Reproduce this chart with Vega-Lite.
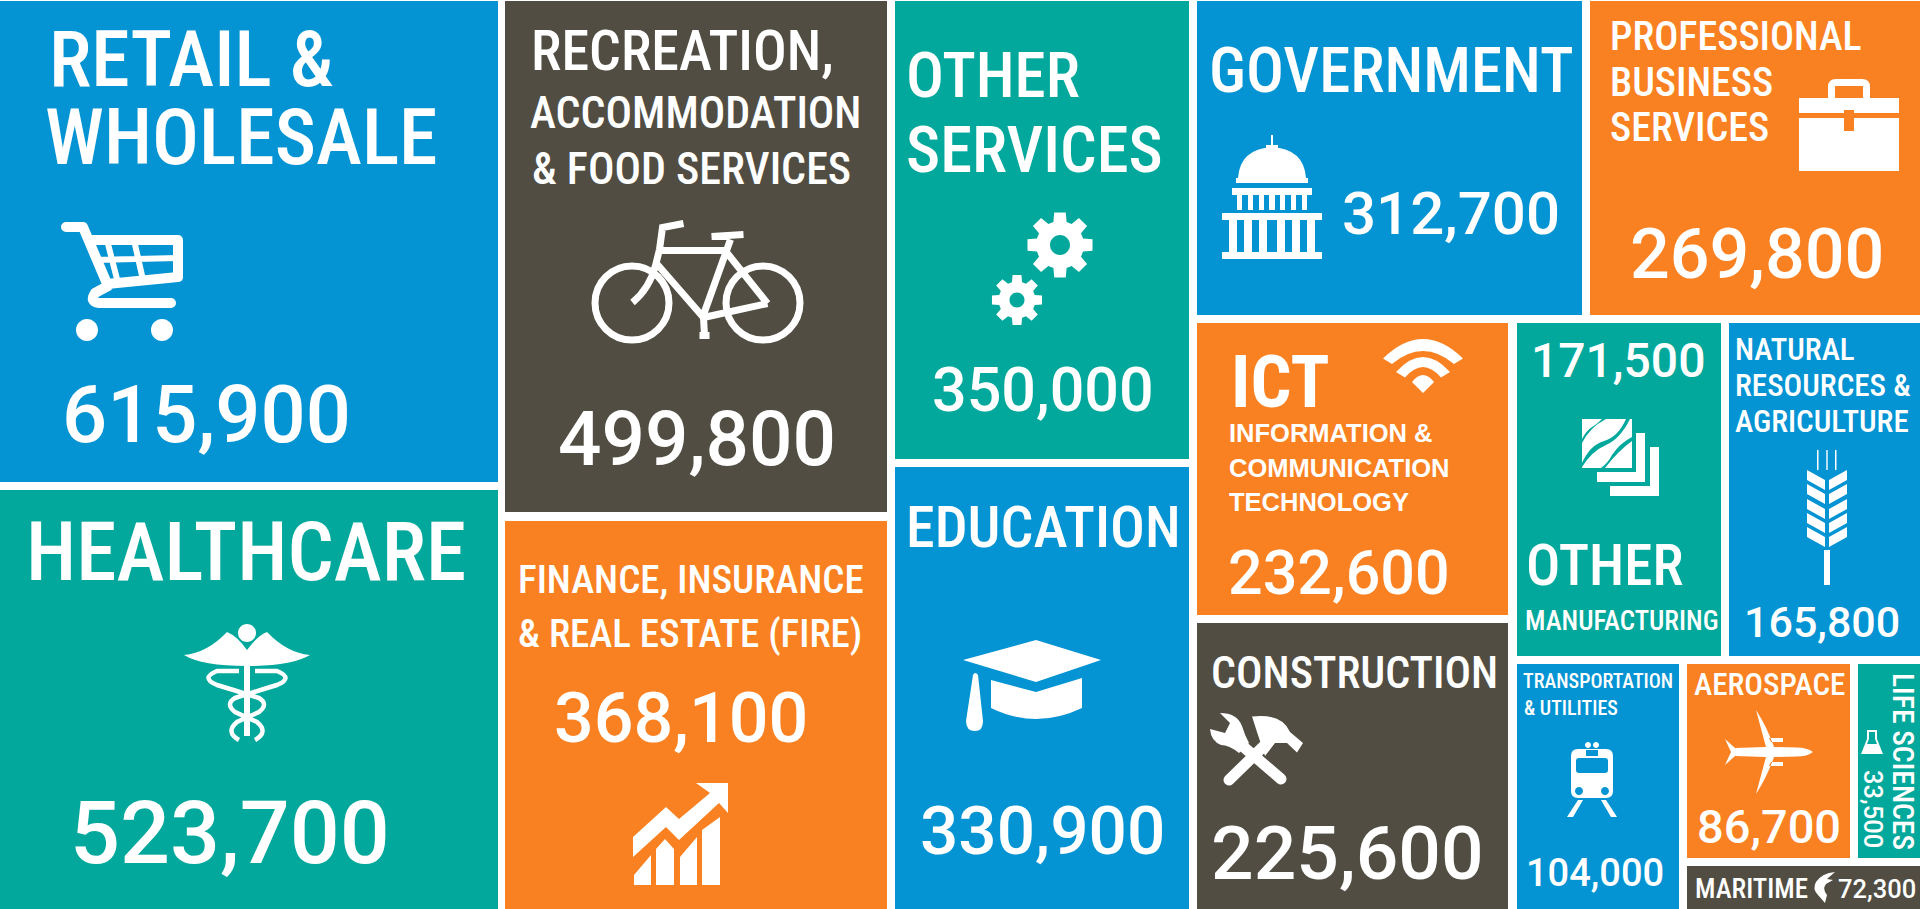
{"$schema":"https://vega.github.io/schema/vega-lite/v6.json","width":1920,"height":909,"padding":0,"autosize":{"type":"none"},"background":"#ffffff","config":{"view":{"stroke":null},"text":{"align":"left","baseline":"alphabetic","fill":"#ffffff"}},
"datasets":{
"cells":[
{"sector":"Retail & Wholesale","jobs":615900,"group":"blue","x":0,"x1":498,"y":1,"y1":482},
{"sector":"Healthcare","jobs":523700,"group":"teal","x":0,"x1":498,"y":490,"y1":909},
{"sector":"Recreation, Accommodation & Food Services","jobs":499800,"group":"dark","x":505,"x1":887,"y":1,"y1":512},
{"sector":"Finance, Insurance & Real Estate (FIRE)","jobs":368100,"group":"orange","x":505,"x1":887,"y":521,"y1":909},
{"sector":"Other Services","jobs":350000,"group":"teal","x":895,"x1":1189,"y":1,"y1":459},
{"sector":"Education","jobs":330900,"group":"blue","x":895,"x1":1189,"y":467,"y1":909},
{"sector":"Government","jobs":312700,"group":"blue","x":1197,"x1":1582,"y":1,"y1":315},
{"sector":"Professional Business Services","jobs":269800,"group":"orange","x":1590,"x1":1920,"y":1,"y1":315},
{"sector":"ICT","jobs":232600,"group":"orange","x":1197,"x1":1508,"y":323,"y1":615},
{"sector":"Construction","jobs":225600,"group":"dark","x":1197,"x1":1508,"y":623,"y1":909},
{"sector":"Other Manufacturing","jobs":171500,"group":"teal","x":1517,"x1":1721,"y":323,"y1":656},
{"sector":"Natural Resources & Agriculture","jobs":165800,"group":"blue","x":1729,"x1":1920,"y":323,"y1":656},
{"sector":"Transportation & Utilities","jobs":104000,"group":"blue","x":1517,"x1":1679,"y":664,"y1":909},
{"sector":"Aerospace","jobs":86700,"group":"orange","x":1687,"x1":1850,"y":664,"y1":858},
{"sector":"Life Sciences","jobs":33500,"group":"teal","x":1858,"x1":1920,"y":664,"y1":858},
{"sector":"Maritime","jobs":72300,"group":"dark","x":1687,"x1":1920,"y":866,"y1":909}],
"icons":[
{"icon":"cartw","x":121,"y":280},{"icon":"cadu","x":247,"y":688},{"icon":"gear1","x":1060,"y":245},{"icon":"gear2","x":1017,"y":300},{"icon":"chart","x":680,"y":834},{"icon":"cap","x":1032,"y":685},{"icon":"capitol","x":1272,"y":197},{"icon":"case","x":1849,"y":125},{"icon":"wifi","x":1423,"y":366},{"icon":"tools","x":1257,"y":751},{"icon":"layers","x":1620,"y":457},{"icon":"wheat","x":1827,"y":517},{"icon":"train","x":1592,"y":779},{"icon":"plane","x":1769,"y":752},{"icon":"flask","x":1872,"y":742},{"icon":"fish","x":1824,"y":887}],
"lines":[{"icon":"bike","x":697.5,"y":283.5},{"icon":"cartframe","x":121,"y":280},{"icon":"cartgrid","x":121,"y":280},{"icon":"snakes","x":247,"y":688},{"icon":"toolh","x":1257,"y":751}],
"labels":[
{"k":"h78","t":"RETAIL &","x":49,"y":86},{"k":"h78","t":"WHOLESALE","x":45,"y":164},
{"k":"h81","t":"HEALTHCARE","x":26,"y":580},
{"k":"h56","t":"RECREATION,","x":531,"y":70},{"k":"h58","t":"EDUCATION","x":906,"y":547},
{"k":"h44","t":"ACCOMMODATION","x":530,"y":128},{"k":"h44","t":"& FOOD SERVICES","x":532,"y":184},{"k":"h44","t":"CONSTRUCTION","x":1211,"y":688},
{"k":"h63","t":"OTHER","x":906,"y":97},{"k":"h65","t":"SERVICES","x":906,"y":172},{"k":"h63","t":"GOVERNMENT","x":1209,"y":92},
{"k":"h39","t":"FINANCE, INSURANCE","x":518,"y":593},{"k":"h39","t":"& REAL ESTATE (FIRE)","x":518,"y":647},
{"k":"h40","t":"PROFESSIONAL","x":1610,"y":50},{"k":"h40","t":"BUSINESS","x":1610,"y":96},{"k":"h40","t":"SERVICES","x":1610,"y":141},
{"k":"h57","t":"OTHER","x":1526,"y":585},
{"k":"h27","t":"MANUFACTURING","x":1525,"y":630},{"k":"h27","t":"MARITIME","x":1695,"y":898},
{"k":"h31","t":"NATURAL","x":1735,"y":360},{"k":"h31","t":"RESOURCES &","x":1735,"y":396},{"k":"h31","t":"AGRICULTURE","x":1735,"y":432},{"k":"h31","t":"AEROSPACE","x":1694,"y":695},
{"k":"h20","t":"TRANSPORTATION","x":1523,"y":688},{"k":"h20","t":"& UTILITIES","x":1524,"y":715},
{"k":"hv","t":"LIFE SCIENCES","x":1893,"y":673},
{"k":"ict","t":"ICT","x":1231,"y":407},
{"k":"b25","t":"INFORMATION &","x":1229,"y":442},{"k":"b25","t":"COMMUNICATION","x":1229,"y":477},{"k":"b25","t":"TECHNOLOGY","x":1229,"y":511},
{"k":"n79","t":"615,900","x":62,"y":442},{"k":"n88","t":"523,700","x":70,"y":863},{"k":"n76","t":"499,800","x":558,"y":465},
{"k":"n61","t":"350,000","x":932,"y":411},{"k":"n60","t":"312,700","x":1342,"y":234},{"k":"n61","t":"232,600","x":1228,"y":594},
{"k":"n70","t":"368,100","x":554,"y":742},{"k":"n70","t":"269,800","x":1630,"y":278},
{"k":"n67","t":"330,900","x":920,"y":854},{"k":"n75","t":"225,600","x":1211,"y":879},
{"k":"n48","t":"171,500","x":1531,"y":377},{"k":"n47","t":"86,700","x":1697,"y":843},
{"k":"n43","t":"165,800","x":1744,"y":637},{"k":"n38","t":"104,000","x":1526,"y":886},{"k":"n25","t":"72,300","x":1838,"y":898},
{"k":"nv","t":"33,500","x":1864,"y":770}]
},
"encoding":{"x":{"field":"x","type":"quantitative","axis":null,"scale":{"domain":[0,1920],"nice":false,"zero":false}},"y":{"field":"y","type":"quantitative","axis":null,"scale":{"domain":[0,909],"nice":false,"zero":false,"reverse":true}}},
"layer":[
{"data":{"name":"cells"},"mark":{"type":"rect"},"encoding":{"x2":{"field":"x1"},"y2":{"field":"y1"},"color":{"field":"group","type":"nominal","legend":null,"scale":{"domain":["blue","teal","dark","orange"],"range":["#0493d3","#02a89b","#514d43","#f98121"]}}}},
{"data":{"name":"icons"},"mark":{"type":"point","filled":true,"size":4,"opacity":1,"fill":"#ffffff","strokeWidth":0},"encoding":{"shape":{"field":"icon","type":"nominal","legend":null,"scale":{"domain":["cartw","cadu","gear1","gear2","chart","cap","capitol","case","wifi","tools","layers","wheat","train","plane","flask","fish"],"range":[
"M-45,50 a11,11 0 1,0 22,0 a11,11 0 1,0 -22,0Z M30,50 a11,11 0 1,0 22,0 a11,11 0 1,0 -22,0Z",
"M-63,-33 Q-40,-35 -20,-56 Q-10,-52 0,-38 Q10,-52 20,-56 Q40,-35 63,-33 Q45,-22 0,-22 Q-45,-22 -63,-33Z M-3,-22 L3,-22 L3,48 L-3,48Z M-9,-55 a9,9 0 1,0 18,0 a9,9 0 1,0 -18,0Z",
"M23.07,-6.62 L32.5,-5.73 L32.5,5.73 L23.07,6.62 L20.99,11.64 L27.03,18.93 L18.93,27.03 L11.64,20.99 L6.62,23.07 L5.73,32.5 L-5.73,32.5 L-6.62,23.07 L-11.64,20.99 L-18.93,27.03 L-27.03,18.93 L-20.99,11.64 L-23.07,6.62 L-32.5,5.73 L-32.5,-5.73 L-23.07,-6.62 L-20.99,-11.64 L-27.03,-18.93 L-18.93,-27.03 L-11.64,-20.99 L-6.62,-23.07 L-5.73,-32.5 L5.73,-32.5 L6.62,-23.07 L11.64,-20.99 L18.93,-27.03 L27.03,-18.93 L20.99,-11.64Z M10,0 A10,10 0 1,0 -10,0 A10,10 0 1,0 10,0Z",
"M17.76,-5.1 L25.03,-4.41 L25.03,4.41 L17.76,5.1 L16.16,8.96 L20.81,14.58 L14.58,20.81 L8.96,16.16 L5.1,17.76 L4.41,25.03 L-4.41,25.03 L-5.1,17.76 L-8.96,16.16 L-14.58,20.81 L-20.81,14.58 L-16.16,8.96 L-17.76,5.1 L-25.03,4.41 L-25.03,-4.41 L-17.76,-5.1 L-16.16,-8.96 L-20.81,-14.58 L-14.58,-20.81 L-8.96,-16.16 L-5.1,-17.76 L-4.41,-25.03 L4.41,-25.03 L5.1,-17.76 L8.96,-16.16 L14.58,-20.81 L20.81,-14.58 L16.16,-8.96Z M7.5,0 A7.5,7.5 0 1,0 -7.5,0 A7.5,7.5 0 1,0 7.5,0Z",
"M-47,3 L-14,-27 L-1,-15 L30,-41 L16,-51 L48,-51 L48,-21 L39,-31 L-1,6 L-14,-7 L-47,23Z M-46,51 L-46,41 L-29,21 L-29,51Z M-24,51 L-24,15 L-15,5 L-6,15 L-6,51Z M0,51 L0,23 L17,3 L17,51Z M22,51 L22,-4 L40,-17 L40,51Z",
"M-69,-25 L4,-45 L69,-25 L4,-3Z M-41,-5 L4,7 L50,-7 L50,23 Q4,45 -41,23Z M-59,-10 Q-57,-14 -54,-10 L-49,36 Q-49,46 -57,46 Q-66,46 -66,36Z",
"M-1,-62 L1,-62 L1,-50 L-1,-50Z M-6,-52 L6,-52 L6,-48 L-6,-48Z M-34,-19 Q-32,-48 0,-50 Q32,-48 34,-19Z M-36,-19 L36,-19 L36,-14 L-36,-14Z M-40,-9 L40,-9 L40,-2 L-40,-2Z M-35,-2 L-30,-2 L-30,13 L-35,13Z M-24,-2 L-19,-2 L-19,13 L-24,13Z M-13,-2 L-8,-2 L-8,13 L-13,13Z M-3,-2 L3,-2 L3,13 L-3,13Z M8,-2 L13,-2 L13,13 L8,13Z M19,-2 L24,-2 L24,13 L19,13Z M30,-2 L35,-2 L35,13 L30,13Z M-50,16 L50,16 L50,23 L-50,23Z M-43,23 L-35,23 L-35,55 L-43,55Z M-28,23 L-20,23 L-20,55 L-28,55Z M-13,23 L-5,23 L-5,55 L-13,55Z M5,23 L13,23 L13,55 L5,55Z M20,23 L28,23 L28,55 L20,55Z M35,23 L43,23 L43,55 L35,55Z M-50,55 L50,55 L50,62 L-50,62Z",
"M-50,-27 L50,-27 L50,-12 L5,-12 L5,-15 L-5,-15 L-5,-12 L-50,-12Z M-50,-7 L-5,-7 L-5,6 L5,6 L5,-7 L50,-7 L50,46 L-50,46Z M-21,-27 L-21,-38 Q-21,-46 -13,-46 L13,-46 Q21,-46 21,-38 L21,-27 L14,-27 L14,-39 L-14,-39 L-14,-27Z",
"M-40,-7.5 Q0,-46.5 40,-7.5 L31,-2 Q0,-28 -31,-2Z M-27,6 Q0,-24 27,6 L18,11.5 Q0,-9.5 -18,11.5Z M-11,16 Q0,2 11,16 L0,27Z",
"M-5,-34.5 Q25,-38 33,-19 L46,-8 L40,1.5 L30,-8 L18,-8 L8,5 L0,-19Z M-47,-22 L-32,-18 L-27,-28 L-37,-38 Q-20,-38 -15,-25 Q-12,-15 -8,-8 L-18,2 Q-28,-6 -36,-6 Q-46,-10 -47,-22Z",
"M16,-24 L25,-24 L25,25 L-23,25 L-23,15 L16,15Z M30,-10 L39,-10 L39,39 L-10,39 L-10,29 L30,29Z M-38,-38 L-18,-38 Q-24,-32 -28,-30 Q-34,-26 -38,-18Z M-14,-38 L6,-38 Q-2,-20 -16,-16 Q-30,-12 -38,6 L-38,-14 Q-30,-30 -14,-38Z M10,-38 L12,-38 L12,-20 Q0,-14 -8,-2 Q-12,6 -19,11 L-38,11 L-38,10 Q-28,-6 -14,-12 Q0,-18 10,-38Z M12,-16 L12,11 L-15,11 Q-2,-6 12,-16Z",
"M-3,33 L3,33 L3,68 L-3,68Z M-10,-67 L-8.5,-67 L-8.5,-47 L-10,-47Z M-0.7,-67 L0.7,-67 L0.7,-47 L-0.7,-47Z M8,-67 L9.5,-67 L9.5,-47 L8,-47Z M-20,-47 L-2,-37 L-2,-27 L-20,-37Z M-20,-33 L-2,-23 L-2,-13 L-20,-23Z M-20,-18 L-2,-8 L-2,2 L-20,-8Z M-20,-4 L-2,6 L-2,16 L-20,6Z M-20,10 L-2,20 L-2,30 L-20,20Z M20,-47 L20,-37 L2,-27 L2,-37Z M20,-33 L20,-23 L2,-13 L2,-23Z M20,-18 L20,-8 L2,2 L2,-8Z M20,-4 L20,6 L2,16 L2,6Z M20,10 L20,20 L2,30 L2,20Z",
"M-14,-30 L14,-30 Q21,-30 21,-23 L21,12 Q21,19 14,19 L-14,19 Q-21,19 -21,12 L-21,-23 Q-21,-30 -14,-30Z M-16,-18 L-16,-9 Q-16,-6 -13,-6 L13,-6 Q16,-6 16,-9 L16,-18 Q16,-21 13,-21 L-13,-21 Q-16,-21 -16,-18Z M-6,-29 L-6,-23 L6,-23 L6,-29Z M-9,12 a4,4 0 1,0 -8,0 a4,4 0 1,0 8,0Z M17,12 a4,4 0 1,0 -8,0 a4,4 0 1,0 8,0Z M-7,-34 a3,3 0 1,0 6,0 a3,3 0 1,0 -6,0Z M1,-34 a3,3 0 1,0 6,0 a3,3 0 1,0 -6,0Z M-14,21 L-9,21 L-19,38 L-25,38Z M9,21 L14,21 L25,38 L19,38Z",
"M44,0 Q38,-4.5 28,-4.5 L5,-5 Q-2,-25 -13,-42 L-3,-5 L-34,-4 L-44,-13 L-38,0 L-44,13 L-34,4 L-3,5 L-13,42 Q-2,25 5,5 L28,4.5 Q38,4.5 44,0Z M0,-14 L14,-14 L14,-10 L2,-10Z M2,10 L14,10 L14,14 L0,14Z",
"M-5,-12 L5,-12 L5,-3 L11,12 L-11,12 L-5,-3Z M-3,-10 L-3,-3 L-5,2 L5,2 L3,-3 L3,-10Z",
"M11,-15 Q-2,-14 -8,-5 Q-12,2 -6,8 L1,16 L3,8 Q-2,2 2,-3 L9,-7 L3,-8Z"]}}}},
{"data":{"name":"lines"},"transform":[{"filter":"datum.icon=='bike'"}],"mark":{"type":"point","size":4,"opacity":1,"filled":false,"stroke":"#ffffff","strokeWidth":7,"shape":"M-102.5,19.5 a37,37 0 1,0 74,0 a37,37 0 1,0 -74,0Z M28.5,19.5 a37,37 0 1,0 74,0 a37,37 0 1,0 -74,0Z M-14,-60 L-35,-56 L-38,-34 L-42,-18 Q-48,5 -65,19 M-36,-33 L28,-33 M-41,-20 L6,34 M33,-44 L5,34 M6,34 L70,20 M30,-30 L70,20 M14,-47 L46,-49 M6,34 L7,52 M2,52 L12,52"}},
{"data":{"name":"lines"},"transform":[{"filter":"datum.icon=='cartframe'"}],"mark":{"type":"point","size":4,"opacity":1,"filled":false,"stroke":"#ffffff","strokeWidth":10,"strokeCap":"round","strokeJoin":"round","shape":"M-55,-53 L-38,-53 L-13,6 L-26,13 Q-32,22 -22,23 L50,23 M-32,-40 L57,-40 L57,-3 L-14,4"}},
{"data":{"name":"lines"},"transform":[{"filter":"datum.icon=='cartgrid'"}],"mark":{"type":"point","size":4,"opacity":1,"filled":false,"stroke":"#ffffff","strokeWidth":6,"shape":"M-28,-20 L57,-22 M-14,-40 L-3,3 M13,-40 L22,0"}},
{"data":{"name":"lines"},"transform":[{"filter":"datum.icon=='snakes'"}],"mark":{"type":"point","size":4,"opacity":1,"filled":false,"stroke":"#ffffff","strokeWidth":4.5,"shape":"M-8,-17 L-30,-17 Q-47,-10 -30,-3 Q-10,3 12,10 Q22,16 12,24 L-10,34 Q-22,44 -8,52 M8,-17 L30,-17 Q47,-10 30,-3 Q10,3 -12,10 Q-22,16 -12,24 L10,34 Q22,44 8,52"}},
{"data":{"name":"lines"},"transform":[{"filter":"datum.icon=='toolh'"}],"mark":{"type":"point","size":4,"opacity":1,"filled":false,"stroke":"#ffffff","strokeWidth":11,"strokeCap":"round","shape":"M-28,29 L12,-10 M24,28 L-18,-8"}},
{"data":{"name":"labels"},"transform":[{"filter":"datum.k=='h78'"}],"mark":{"type":"text","font":"Roboto Condensed","fontWeight":500,"fontSize":78},"encoding":{"text":{"field":"t"}}},
{"data":{"name":"labels"},"transform":[{"filter":"datum.k=='h81'"}],"mark":{"type":"text","font":"Roboto Condensed","fontWeight":500,"fontSize":81.5},"encoding":{"text":{"field":"t"}}},
{"data":{"name":"labels"},"transform":[{"filter":"datum.k=='h65'"}],"mark":{"type":"text","font":"Roboto Condensed","fontWeight":500,"fontSize":64.5},"encoding":{"text":{"field":"t"}}},
{"data":{"name":"labels"},"transform":[{"filter":"datum.k=='h63'"}],"mark":{"type":"text","font":"Roboto Condensed","fontWeight":500,"fontSize":63},"encoding":{"text":{"field":"t"}}},
{"data":{"name":"labels"},"transform":[{"filter":"datum.k=='h58'"}],"mark":{"type":"text","font":"Roboto Condensed","fontWeight":500,"fontSize":58},"encoding":{"text":{"field":"t"}}},
{"data":{"name":"labels"},"transform":[{"filter":"datum.k=='h57'"}],"mark":{"type":"text","font":"Roboto Condensed","fontWeight":500,"fontSize":57},"encoding":{"text":{"field":"t"}}},
{"data":{"name":"labels"},"transform":[{"filter":"datum.k=='h56'"}],"mark":{"type":"text","font":"Roboto Condensed","fontWeight":500,"fontSize":56},"encoding":{"text":{"field":"t"}}},
{"data":{"name":"labels"},"transform":[{"filter":"datum.k=='h44'"}],"mark":{"type":"text","font":"Roboto Condensed","fontWeight":500,"fontSize":44},"encoding":{"text":{"field":"t"}}},
{"data":{"name":"labels"},"transform":[{"filter":"datum.k=='h39'"}],"mark":{"type":"text","font":"Roboto Condensed","fontWeight":500,"fontSize":39},"encoding":{"text":{"field":"t"}}},
{"data":{"name":"labels"},"transform":[{"filter":"datum.k=='h40'"}],"mark":{"type":"text","font":"Roboto Condensed","fontWeight":500,"fontSize":40},"encoding":{"text":{"field":"t"}}},
{"data":{"name":"labels"},"transform":[{"filter":"datum.k=='h31'"}],"mark":{"type":"text","font":"Roboto Condensed","fontWeight":500,"fontSize":31},"encoding":{"text":{"field":"t"}}},
{"data":{"name":"labels"},"transform":[{"filter":"datum.k=='h27'"}],"mark":{"type":"text","font":"Roboto Condensed","fontWeight":500,"fontSize":27},"encoding":{"text":{"field":"t"}}},
{"data":{"name":"labels"},"transform":[{"filter":"datum.k=='h20'"}],"mark":{"type":"text","font":"Roboto Condensed","fontWeight":500,"fontSize":20},"encoding":{"text":{"field":"t"}}},
{"data":{"name":"labels"},"transform":[{"filter":"datum.k=='hv'"}],"mark":{"type":"text","font":"Roboto Condensed","fontWeight":500,"fontSize":29.5,"angle":90},"encoding":{"text":{"field":"t"}}},
{"data":{"name":"labels"},"transform":[{"filter":"datum.k=='ict'"}],"mark":{"type":"text","font":"Roboto Condensed","fontSize":72,"fontWeight":"bold"},"encoding":{"text":{"field":"t"}}},
{"data":{"name":"labels"},"transform":[{"filter":"datum.k=='b25'"}],"mark":{"type":"text","font":"Liberation Sans","fontSize":25.5,"fontWeight":"bold"},"encoding":{"text":{"field":"t"}}},
{"data":{"name":"labels"},"transform":[{"filter":"datum.k=='n79'"}],"mark":{"type":"text","font":"Roboto","fontWeight":500,"fontSize":79.5},"encoding":{"text":{"field":"t"}}},
{"data":{"name":"labels"},"transform":[{"filter":"datum.k=='n88'"}],"mark":{"type":"text","font":"Roboto","fontWeight":500,"fontSize":88},"encoding":{"text":{"field":"t"}}},
{"data":{"name":"labels"},"transform":[{"filter":"datum.k=='n76'"}],"mark":{"type":"text","font":"Roboto","fontWeight":500,"fontSize":76.5},"encoding":{"text":{"field":"t"}}},
{"data":{"name":"labels"},"transform":[{"filter":"datum.k=='n75'"}],"mark":{"type":"text","font":"Roboto","fontWeight":500,"fontSize":75},"encoding":{"text":{"field":"t"}}},
{"data":{"name":"labels"},"transform":[{"filter":"datum.k=='n70'"}],"mark":{"type":"text","font":"Roboto","fontWeight":500,"fontSize":70},"encoding":{"text":{"field":"t"}}},
{"data":{"name":"labels"},"transform":[{"filter":"datum.k=='n67'"}],"mark":{"type":"text","font":"Roboto","fontWeight":500,"fontSize":67.5},"encoding":{"text":{"field":"t"}}},
{"data":{"name":"labels"},"transform":[{"filter":"datum.k=='n61'"}],"mark":{"type":"text","font":"Roboto","fontWeight":500,"fontSize":61},"encoding":{"text":{"field":"t"}}},
{"data":{"name":"labels"},"transform":[{"filter":"datum.k=='n60'"}],"mark":{"type":"text","font":"Roboto","fontWeight":500,"fontSize":60},"encoding":{"text":{"field":"t"}}},
{"data":{"name":"labels"},"transform":[{"filter":"datum.k=='n48'"}],"mark":{"type":"text","font":"Roboto","fontWeight":500,"fontSize":48},"encoding":{"text":{"field":"t"}}},
{"data":{"name":"labels"},"transform":[{"filter":"datum.k=='n47'"}],"mark":{"type":"text","font":"Roboto","fontWeight":500,"fontSize":47},"encoding":{"text":{"field":"t"}}},
{"data":{"name":"labels"},"transform":[{"filter":"datum.k=='n43'"}],"mark":{"type":"text","font":"Roboto","fontWeight":500,"fontSize":43},"encoding":{"text":{"field":"t"}}},
{"data":{"name":"labels"},"transform":[{"filter":"datum.k=='n38'"}],"mark":{"type":"text","font":"Roboto","fontWeight":500,"fontSize":38},"encoding":{"text":{"field":"t"}}},
{"data":{"name":"labels"},"transform":[{"filter":"datum.k=='n25'"}],"mark":{"type":"text","font":"Roboto","fontWeight":500,"fontSize":25.5},"encoding":{"text":{"field":"t"}}},
{"data":{"name":"labels"},"transform":[{"filter":"datum.k=='nv'"}],"mark":{"type":"text","font":"Roboto","fontWeight":500,"fontSize":25.5,"angle":90},"encoding":{"text":{"field":"t"}}}
]}
